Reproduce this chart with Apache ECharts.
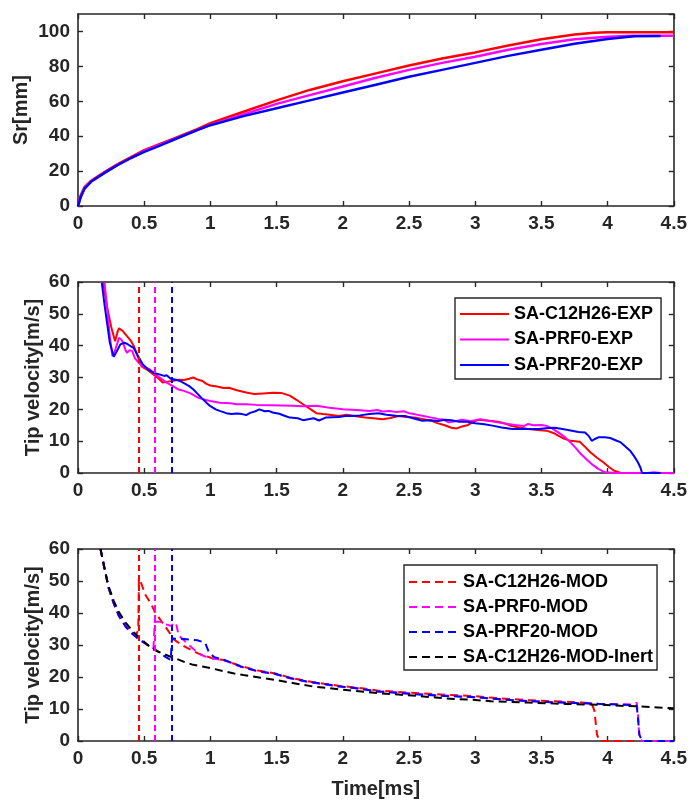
<!DOCTYPE html>
<html>
<head>
<meta charset="utf-8">
<script src="https://cdn.jsdelivr.net/npm/echarts@6/dist/echarts.min.js"></script>
<style>
  html, body { margin: 0; padding: 0; background: #fff; }
  #chart { width: 690px; height: 801px; }
</style>
</head>
<body>
<div id="chart"></div>
<script>
// ---- Spray penetration Sr [mm] vs time [ms] ----
const srC12H26T = [0, 0.02, 0.05, 0.1, 0.15, 0.2, 0.3, 0.4, 0.5, 0.6, 0.75, 0.9, 1.0, 1.25, 1.5, 1.75, 2.0, 2.25, 2.5, 2.75, 3.0, 3.25, 3.5, 3.75, 3.9, 4.0, 4.5];
const srC12H26V = [0, 6, 11, 14.5, 17, 19.5, 24, 28, 32, 35, 39.5, 44, 47.5, 54, 60.5, 66.5, 71.5, 76, 80.5, 84.5, 88, 92, 95.5, 98.3, 99.3, 99.6, 99.6];
const srPRF0T = [0, 0.02, 0.05, 0.1, 0.15, 0.2, 0.3, 0.4, 0.5, 0.6, 0.75, 0.9, 1.0, 1.25, 1.5, 1.75, 2.0, 2.25, 2.5, 2.75, 3.0, 3.25, 3.5, 3.75, 4.0, 4.2, 4.5];
const srPRF0V = [0, 5.5, 10.5, 14, 16.5, 19, 23.5, 27.5, 31.5, 34.5, 39, 43.5, 46.5, 52.5, 58.5, 63.5, 68.5, 73.5, 78, 82, 85.5, 89.5, 92.8, 95.5, 97, 97.5, 97.5];
const srPRF20T = [0, 0.02, 0.05, 0.1, 0.15, 0.2, 0.3, 0.4, 0.5, 0.6, 0.75, 0.9, 1.0, 1.25, 1.5, 1.75, 2.0, 2.25, 2.5, 2.75, 3.0, 3.25, 3.5, 3.75, 4.0, 4.2, 4.4];
const srPRF20V = [0, 5, 10, 14, 16.5, 19, 23.5, 27.5, 31, 34, 38.8, 43.5, 46.3, 51.5, 56, 60.5, 65, 69.5, 74, 78, 82, 86, 89.5, 93, 95.7, 97.3, 97.4];

// ---- Measured tip velocity [m/s] ----
const expC12H26T = [0.19, 0.22, 0.25, 0.28, 0.3, 0.31, 0.34, 0.37, 0.4, 0.42, 0.44, 0.46, 0.48, 0.52, 0.56, 0.6, 0.64, 0.68, 0.72, 0.76, 0.8, 0.84, 0.87, 0.9, 0.94, 0.97, 1.0, 1.05, 1.1, 1.14, 1.2, 1.27, 1.33, 1.4, 1.47, 1.54, 1.6, 1.65, 1.7, 1.75, 1.8, 1.85, 1.9, 1.97, 2.03, 2.1, 2.17, 2.23, 2.3, 2.36, 2.42, 2.48, 2.54, 2.6, 2.67, 2.72, 2.77, 2.82, 2.86, 2.9, 2.94, 2.98, 3.02, 3.08, 3.13, 3.17, 3.22, 3.27, 3.33, 3.4, 3.47, 3.54, 3.6, 3.63, 3.67, 3.72, 3.79, 3.83, 3.87, 3.92, 3.97, 4.01, 4.05, 4.1, 4.5];
const expC12H26V = [60, 52, 46, 41.4, 44.5, 45.5, 44.5, 43, 41.5, 40, 38, 35.5, 33.5, 32.5, 31.3, 30, 28.4, 28.7, 29, 29.3, 29.2, 29.6, 30, 29.4, 28.9, 28, 27.5, 27.2, 26.7, 26.8, 26, 25.3, 24.8, 25, 25.2, 25.1, 24.3, 23, 21.6, 20.2, 18.8, 18.5, 18.3, 17.9, 18.3, 17.8, 17.4, 17.2, 16.9, 17.3, 17.9, 17.6, 17.4, 17, 16.4, 15.6, 15, 14.2, 14, 14.6, 15, 15.9, 16.7, 16.5, 16.3, 16.1, 15.6, 14.8, 14.3, 13.8, 13.5, 13.3, 12.4, 11.7, 10.8, 10.1, 9.8, 8.2, 6.5, 4.8, 3.3, 1.9, 0.7, 0, 0];
const expPRF0T = [0.2, 0.22, 0.24, 0.26, 0.28, 0.31, 0.33, 0.34, 0.36, 0.37, 0.39, 0.41, 0.43, 0.46, 0.5, 0.54, 0.58, 0.6, 0.64, 0.67, 0.72, 0.76, 0.8, 0.85, 0.9, 0.94, 1.0, 1.07, 1.15, 1.2, 1.27, 1.35, 1.45, 1.54, 1.62, 1.7, 1.8, 1.9, 2.0, 2.1, 2.2, 2.26, 2.3, 2.35, 2.4, 2.46, 2.5, 2.54, 2.6, 2.67, 2.72, 2.76, 2.8, 2.84, 2.9, 2.96, 3.04, 3.1, 3.17, 3.25, 3.3, 3.37, 3.4, 3.44, 3.5, 3.54, 3.58, 3.63, 3.68, 3.72, 3.76, 3.8, 3.84, 3.88, 3.93, 3.98, 4.07, 4.3, 4.35, 4.4, 4.5];
const expPRF0V = [59.7, 52, 43, 36.7, 38.5, 42.5, 41.8, 41, 38.5, 37.8, 38.6, 38.3, 36, 34.6, 33.3, 32.6, 31.2, 30.5, 29.3, 28.4, 27.2, 26.2, 25.8, 25, 23.8, 23.2, 22.6, 22.1, 21.9, 21.6, 21.6, 21.4, 21.3, 21.2, 21.1, 21, 21.1, 20.5, 20, 19.8, 19.5, 19.8, 19.3, 19.5, 19.2, 19.4, 18.8, 18.5, 18, 17.4, 17, 16.8, 15.9, 16.2, 16.7, 16.3, 16.9, 16.4, 15.9, 15.4, 15.1, 14.8, 15.4, 15, 15.1, 14.8, 14, 12.7, 11.2, 9.6, 7.8, 5.9, 4.3, 2.8, 1.3, 0.2, 0, 0, 0.2, 0, 0];
const expPRF20T = [0.18, 0.2, 0.22, 0.24, 0.27, 0.29, 0.32, 0.35, 0.37, 0.4, 0.42, 0.45, 0.49, 0.53, 0.57, 0.62, 0.65, 0.67, 0.7, 0.74, 0.77, 0.8, 0.84, 0.87, 0.9, 0.94, 0.97, 1.0, 1.04, 1.07, 1.12, 1.16, 1.2, 1.24, 1.27, 1.3, 1.34, 1.37, 1.41, 1.44, 1.47, 1.52, 1.56, 1.6, 1.66, 1.7, 1.74, 1.78, 1.82, 1.87, 1.92, 1.97, 2.02, 2.07, 2.13, 2.2, 2.27, 2.33, 2.4, 2.47, 2.53, 2.6, 2.66, 2.72, 2.77, 2.82, 2.88, 2.94, 3.0, 3.07, 3.14, 3.2, 3.28, 3.34, 3.4, 3.48, 3.55, 3.6, 3.66, 3.73, 3.78, 3.83, 3.86, 3.88, 3.9, 3.93, 3.98, 4.02, 4.06, 4.1, 4.13, 4.17, 4.2, 4.23, 4.25, 4.26, 4.4];
const expPRF20V = [59.7, 53, 47, 41, 36.5, 38, 40.4, 40.9, 40.6, 39.8, 39.3, 37, 34.1, 32.5, 31.5, 30.9, 30.5, 30.7, 29.6, 29.3, 28.9, 28.2, 27.3, 26.3, 25, 23.3, 22.1, 21, 20, 19.5, 18.8, 18.5, 18.7, 18.5, 18.2, 18.9, 19.4, 20, 19.4, 19.5, 19, 18.6, 18, 17.4, 17.2, 16.6, 16.9, 17.2, 16.5, 17.4, 17.5, 17.6, 17.9, 17.9, 18.1, 18.5, 18.8, 18.3, 18, 17.9, 17.2, 16.4, 16.6, 16.3, 16.7, 16.6, 16.1, 16.1, 15.6, 15.3, 14.8, 14.3, 13.8, 13.8, 13.8, 13.8, 14.1, 14.2, 13.8, 13.3, 12.9, 12.7, 11.5, 10.1, 10.6, 11.2, 11.2, 11, 10.3, 9.6, 8.5, 7, 5.3, 3.3, 1.5, 0, 0];

// ---- Modelled tip velocity [m/s] ----
const modC12H26T = [0.17, 0.2, 0.23, 0.27, 0.31, 0.36, 0.41, 0.44, 0.455, 0.46, 0.48, 0.51, 0.55, 0.58, 0.62, 0.66, 0.73, 0.81, 0.91, 1.02, 1.1, 1.23, 1.36, 1.48, 1.6, 1.73, 1.86, 1.98, 2.1, 2.26, 2.4, 2.55, 2.7, 2.87, 3.0, 3.14, 3.27, 3.4, 3.54, 3.67, 3.8, 3.88, 3.9, 3.92, 3.94, 4.2];
const modC12H26V = [60, 54, 48, 43, 39, 36, 34, 33.3, 34.7, 50.8, 49, 45.6, 43, 40.4, 38, 35.7, 31.5, 29.4, 27.3, 25.8, 25.3, 23.4, 22, 21.2, 19.8, 18.7, 17.9, 17.2, 16.7, 15.8, 15.4, 15, 14.6, 14.3, 14, 13.5, 13.1, 12.8, 12.5, 12.3, 12, 11.8, 9.5, 2, 0, 0];
const modPRF0T = [0.17, 0.2, 0.23, 0.27, 0.31, 0.36, 0.41, 0.46, 0.52, 0.57, 0.58, 0.62, 0.66, 0.7, 0.74, 0.76, 0.82, 0.91, 0.96, 1.02, 1.1, 1.23, 1.36, 1.48, 1.6, 1.73, 1.86, 1.98, 2.1, 2.26, 2.4, 2.55, 2.7, 2.87, 3.0, 3.14, 3.27, 3.4, 3.54, 3.67, 3.8, 3.94, 4.07, 4.2, 4.22, 4.23, 4.24, 4.26, 4.5];
const modPRF0V = [60, 54, 48, 43, 39, 35.7, 33.5, 31.8, 30.2, 29, 37.3, 37.3, 36.5, 36, 37, 33, 30.7, 27.3, 26.4, 25.8, 25.3, 23.2, 21.7, 21, 19.6, 18.5, 17.7, 17, 16.5, 15.5, 15.2, 14.7, 14.3, 14, 13.7, 13.2, 12.8, 12.5, 12.2, 12, 11.8, 11.6, 11.5, 11.4, 12, 8, 1, 0, 0];
const modPRF20T = [0.17, 0.2, 0.23, 0.27, 0.31, 0.36, 0.41, 0.46, 0.52, 0.57, 0.62, 0.66, 0.7, 0.71, 0.8, 0.9, 0.96, 0.99, 1.03, 1.1, 1.23, 1.36, 1.48, 1.6, 1.73, 1.86, 1.98, 2.1, 2.26, 2.4, 2.55, 2.7, 2.87, 3.0, 3.14, 3.27, 3.4, 3.54, 3.67, 3.8, 3.94, 4.07, 4.2, 4.22, 4.23, 4.24, 4.26, 4.5];
const modPRF20V = [60, 54, 48, 43, 39, 35.7, 33.5, 31.8, 30.2, 29, 27.5, 26.3, 25.3, 32, 31.9, 31.5, 30.7, 27.6, 26.2, 25.4, 23.3, 21.8, 21.1, 19.7, 18.6, 17.8, 17, 16.5, 15.5, 15.1, 14.6, 14.2, 13.9, 13.7, 13.2, 12.8, 12.5, 12.2, 12, 11.8, 11.6, 11.4, 11.2, 11, 7, 2, 0, 0];
const modInertT = [0.17, 0.2, 0.23, 0.27, 0.31, 0.36, 0.41, 0.47, 0.52, 0.57, 0.63, 0.69, 0.75, 0.81, 0.87, 0.94, 1.02, 1.1, 1.18, 1.25, 1.38, 1.5, 1.64, 1.78, 1.9, 2.0, 2.14, 2.28, 2.42, 2.56, 2.7, 2.84, 2.98, 3.12, 3.26, 3.4, 3.54, 3.68, 3.82, 3.96, 4.1, 4.24, 4.38, 4.5];
const modInertV = [60, 54, 48.5, 43.8, 40.2, 37, 34.4, 32.1, 30.2, 28.6, 27.5, 26.5, 25.6, 24.6, 23.8, 23.3, 22.6, 21.8, 21.1, 20.6, 19.8, 19, 18, 17, 16.5, 16, 15.5, 14.9, 14.5, 14.1, 13.6, 13.1, 12.9, 12.4, 12.2, 12, 11.8, 11.6, 11.4, 11.3, 11, 10.8, 10.5, 10.2];

// Ignition instants [ms] marked by vertical dashed lines
const ignitionC12H26 = 0.46;
const ignitionPRF0 = 0.58;
const ignitionPRF20 = 0.71;

// Axis ticks
const timeTicks = { min: 0, max: 4.5, interval: 0.5 };
const srTicks = { min: 0, max: 110, interval: 20 };
const velTicks = { min: 0, max: 60, interval: 10 };

const RED = '#ff0000', MAG = '#ff00ff', BLUE = '#0000ff', BLACK = '#000000';
const AXIS = '#262626';
const FONT = 'Liberation Sans, Arial, sans-serif';

const zip = (t, v) => t.map((x, i) => [x, v[i]]);

function xAxes(grid, showName) {
  const base = {
    type: 'value', gridIndex: grid, min: timeTicks.min, max: timeTicks.max, interval: timeTicks.interval,
    axisLine: { show: true, onZero: false, lineStyle: { color: AXIS, width: 1.6 } },
    axisTick: { show: true, inside: true, length: 5, lineStyle: { color: AXIS, width: 1.4 } },
    splitLine: { show: false }
  };
  return [
    Object.assign({}, base, {
      position: 'bottom',
      axisLabel: { show: true, color: AXIS, fontSize: 19, fontWeight: 'bold', fontFamily: FONT, margin: 8 },
      name: showName ? 'Time[ms]' : '', nameLocation: 'middle', nameGap: 38, nameMoveOverlap: false,
      nameTextStyle: { color: AXIS, fontSize: 20, fontWeight: 'bold', fontFamily: FONT }
    }),
    Object.assign({}, base, { position: 'top', axisLabel: { show: false } })
  ];
}

function yAxes(grid, ticks, name, gap) {
  const base = {
    type: 'value', gridIndex: grid, min: ticks.min, max: ticks.max, interval: ticks.interval,
    axisLine: { show: true, onZero: false, lineStyle: { color: AXIS, width: 1.6 } },
    axisTick: { show: true, inside: true, length: 5, lineStyle: { color: AXIS, width: 1.4 } },
    splitLine: { show: false }
  };
  return [
    Object.assign({}, base, {
      position: 'left',
      axisLabel: {
        show: true, color: AXIS, fontSize: 19, fontWeight: 'bold', fontFamily: FONT, margin: 8,
        showMaxLabel: ticks.max % ticks.interval === 0,
        formatter: v => (v % ticks.interval === 0 ? String(v) : '')
      },
      name: name, nameLocation: 'middle', nameGap: gap, nameRotate: 90, nameMoveOverlap: false,
      nameTextStyle: { color: AXIS, fontSize: 20, fontWeight: 'bold', fontFamily: FONT }
    }),
    Object.assign({}, base, { position: 'right', axisLabel: { show: false } })
  ];
}

function line(name, data, color, xi, yi, dashed, width, ignition) {
  const s = {
    name: name, type: 'line', xAxisIndex: xi, yAxisIndex: yi, data: data,
    showSymbol: false, symbol: 'none', animation: false,
    lineStyle: { color: color, width: width, type: dashed ? [8, 5] : 'solid' },
    itemStyle: { color: color },
    z: 3
  };
  if (ignition !== undefined) {
    s.markLine = {
      silent: true, symbol: 'none', animation: false,
      label: { show: false },
      lineStyle: { color: color, width: 2, type: [6, 4] },
      data: [{ xAxis: ignition }]
    };
  }
  return s;
}

const legendText = { color: '#000', fontSize: 18, fontWeight: 'bold', fontFamily: FONT, lineHeight: 20 };
const legendBase = {
  orient: 'vertical', itemWidth: 49, itemHeight: 14,
  backgroundColor: '#fff', borderColor: AXIS, borderWidth: 1.4, borderRadius: 0,
  itemStyle: { opacity: 0 },
  lineStyle: { width: 2 },
  textStyle: legendText, selectedMode: false
};

const option = {
  backgroundColor: '#fff',
  animation: false,
  grid: [
    { left: 78, right: 15, top: 14, height: 192 },
    { left: 78, right: 15, top: 282, height: 191 },
    { left: 78, right: 15, top: 549, height: 192 }
  ],
  xAxis: [...xAxes(0, false), ...xAxes(1, false), ...xAxes(2, true)],
  yAxis: [...yAxes(0, srTicks, 'Sr[mm]', 47), ...yAxes(1, velTicks, 'Tip velocity[m/s]', 35), ...yAxes(2, velTicks, 'Tip velocity[m/s]', 35)],
  legend: [
    Object.assign({}, legendBase, {
      data: ['SA-C12H26-EXP', 'SA-PRF0-EXP', 'SA-PRF20-EXP'],
      left: 455, top: 298, itemGap: 5.5,
      padding: [6, 8, 4, 4]
    }),
    Object.assign({}, legendBase, {
      data: ['SA-C12H26-MOD', 'SA-PRF0-MOD', 'SA-PRF20-MOD', 'SA-C12H26-MOD-Inert'],
      left: 404, top: 565, itemGap: 5,
      padding: [7, 4, 3, 4]
    })
  ],
  series: [
    line('Sr-C12H26', zip(srC12H26T, srC12H26V), RED, 0, 0, false, 2.5),
    line('Sr-PRF0', zip(srPRF0T, srPRF0V), MAG, 0, 0, false, 2.5),
    line('Sr-PRF20', zip(srPRF20T, srPRF20V), BLUE, 0, 0, false, 2.5),

    line('SA-C12H26-EXP', zip(expC12H26T, expC12H26V), RED, 2, 2, false, 2, ignitionC12H26),
    line('SA-PRF0-EXP', zip(expPRF0T, expPRF0V), MAG, 2, 2, false, 2, ignitionPRF0),
    line('SA-PRF20-EXP', zip(expPRF20T, expPRF20V), BLUE, 2, 2, false, 2, ignitionPRF20),

    line('SA-C12H26-MOD', zip(modC12H26T, modC12H26V), RED, 4, 4, true, 2, ignitionC12H26),
    line('SA-PRF0-MOD', zip(modPRF0T, modPRF0V), MAG, 4, 4, true, 2, ignitionPRF0),
    line('SA-PRF20-MOD', zip(modPRF20T, modPRF20V), BLUE, 4, 4, true, 2, ignitionPRF20),
    line('SA-C12H26-MOD-Inert', zip(modInertT, modInertV), BLACK, 4, 4, true, 2)
  ]
};

const chart = echarts.init(document.getElementById('chart'), null, { renderer: 'canvas' });
chart.setOption(option);
</script>
</body>
</html>
